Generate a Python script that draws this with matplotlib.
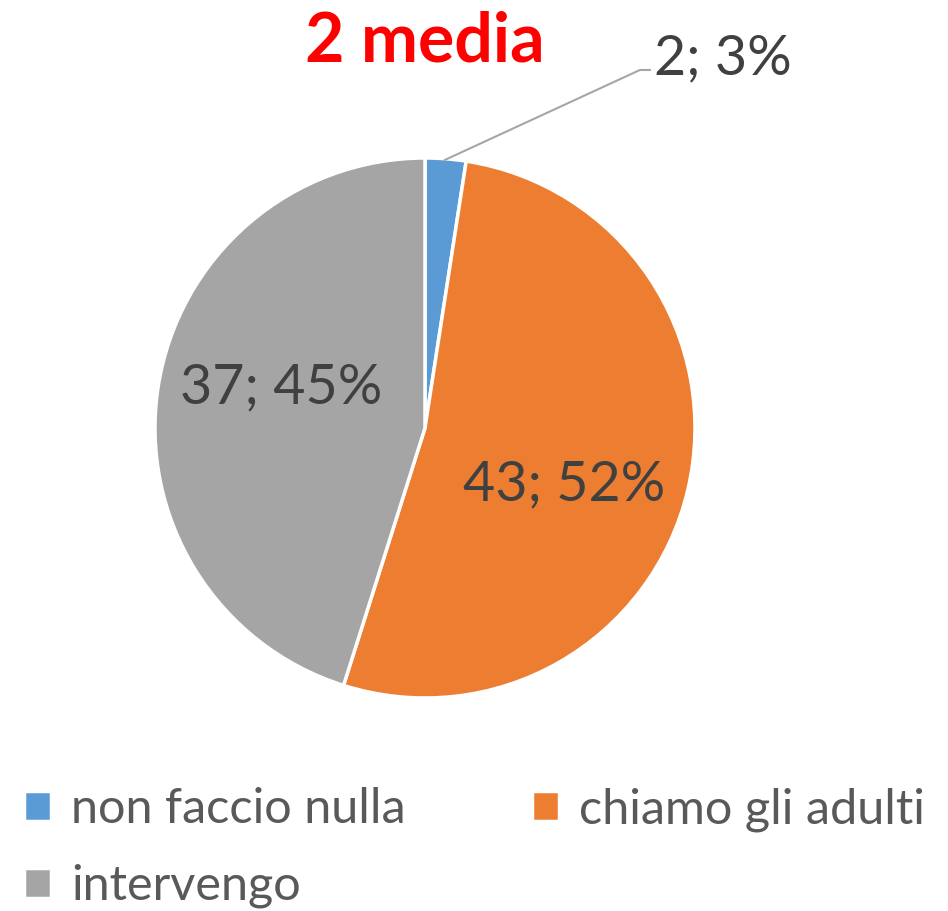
import matplotlib.pyplot as plt

# dati del grafico
categorie = ['non faccio nulla', 'chiamo gli adulti', 'intervengo']
valori = [2, 43, 37]
percentuali = [3, 52, 45]
colori = ['#5B9BD5', '#ED7D31', '#A5A5A5']

plt.rcParams['font.family'] = ['Lato', 'DejaVu Sans']

fig = plt.figure(figsize=(9.48, 9.11), dpi=100)
ax = fig.add_axes([0.1635, 0.2338, 0.5696, 0.5928])

wedges, _ = ax.pie(valori, colors=colori, startangle=90, counterclock=False,
                   radius=1, wedgeprops={'edgecolor': 'white', 'linewidth': 2.5})
ax.set_xlim(-1, 1)
ax.set_ylim(-1, 1)
ax.set_aspect('equal')

etichette = [f'{v}; {p}%' for v, p in zip(valori, percentuali)]

# etichetta esterna con linea guida
ax.plot([0.074, 0.796, 0.833], [0.993, 1.326, 1.326], color='#A6A6A6',
        lw=1.5, clip_on=False)
ax.text(0.85, 1.31, etichette[0], fontsize=40, color='#404040',
        ha='left', va='baseline', clip_on=False)
ax.text(0.515, -0.211, etichette[1], fontsize=40, color='#404040',
        ha='center', va='center')
ax.text(-0.533, 0.148, etichette[2], fontsize=40, color='#404040',
        ha='center', va='center')

fig.text(0.448, 0.932, '2 media', fontsize=49, fontweight='bold',
         color='#FF0000', ha='center', va='baseline')

# ordine per riempire le righe: blu, arancio / grigio
ordine = [0, 2, 1]
fig.legend([wedges[i] for i in ordine], [categorie[i] for i in ordine],
           loc='upper left', bbox_to_anchor=(0.005, 0.157), borderaxespad=0,
           ncol=2, frameon=False, fontsize=35, labelcolor='#595959',
           handlelength=0.56, handleheight=0.56, handletextpad=0.4,
           columnspacing=2.6, labelspacing=0.67)

fig.savefig('out.png', dpi=100)
